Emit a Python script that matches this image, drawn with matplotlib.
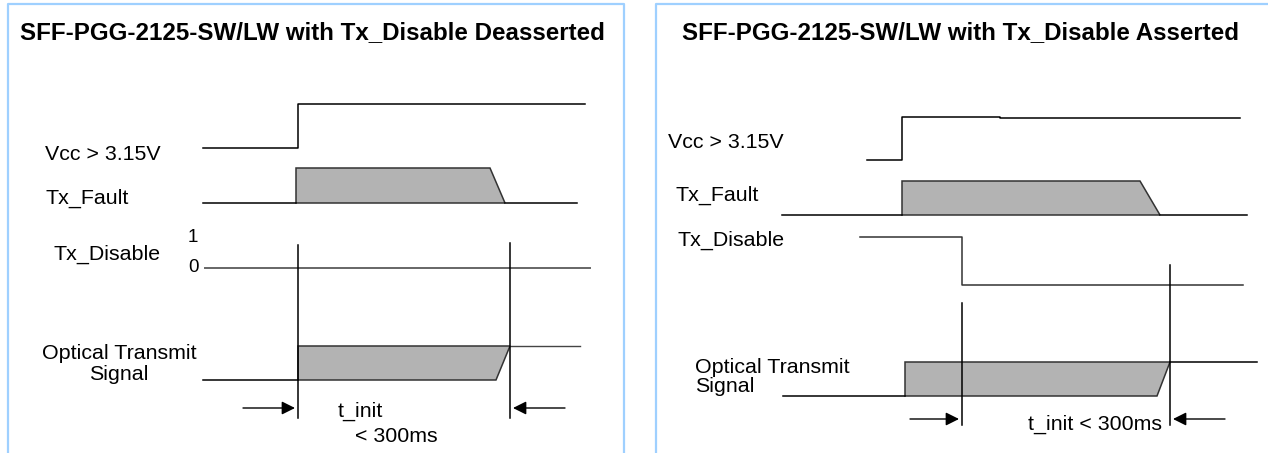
import matplotlib
matplotlib.use("Agg")
import matplotlib.pyplot as plt
from matplotlib.patches import Polygon

plt.rcParams['font.family'] = ['Liberation Sans', 'DejaVu Sans']

# panel titles
titles = ["SFF-PGG-2125-SW/LW with Tx_Disable Deasserted",
          "SFF-PGG-2125-SW/LW with Tx_Disable Asserted"]

# signal labels
vcc_label = "Vcc > 3.15V"
fault_label = "Tx_Fault"
disable_label = "Tx_Disable"
optical_label = "Optical Transmit\nSignal"

# left panel (deasserted) waveforms, pixel units: x edges and y levels
L_vcc_x = [203, 298, 298, 585]
L_vcc_y = [148, 148, 104, 104]
L_fault_low = [203, 296]
L_fault_box = [(296, 203), (296, 168), (490, 168), (505, 203)]
L_fault_tail = [505, 577]
L_fault_y = 203
L_dis_x = [205, 590]
L_dis_y = 268
L_opt_low = [203, 298]
L_opt_box = [(298, 380), (298, 346), (510, 346), (496, 380)]
L_opt_tail = [510, 580]
L_opt_y = (380, 346)
L_marks = [298, 510]
L_mark_top = [245, 243]
L_mark_bot = 418
L_arrow_y = 408

# right panel (asserted) waveforms
R_vcc_x = [867, 902, 902, 1000, 1000, 1240]
R_vcc_y = [160, 160, 117, 117, 118, 118]
R_fault_low = [782, 902]
R_fault_box = [(902, 215), (902, 181), (1140, 181), (1160, 215)]
R_fault_tail = [1160, 1247]
R_fault_y = 215
R_dis_x = [860, 962, 962, 1243]
R_dis_y = [237, 237, 285, 285]
R_opt_low = [783, 905]
R_opt_box = [(905, 396), (905, 362), (1170, 362), (1157, 396)]
R_opt_tail = [1170, 1257]
R_opt_y = (396, 362)
R_marks = [962, 1170]
R_mark_top = [303, 265]
R_mark_bot = 425
R_arrow_y = 419

fig = plt.figure(figsize=(12.68, 4.53), dpi=100)
ax = fig.add_axes([0, 0, 1, 1])
ax.set_xlim(0, 1268)
ax.set_ylim(453, 0)
ax.axis('off')

border = '#9fd0ff'
# panel frames (open at the bottom)
ax.plot([8, 8, 624, 624], [460, 3.5, 3.5, 460], color=border, lw=1.6)
ax.plot([656, 656, 1270], [460, 3.5, 3.5], color=border, lw=1.6)

ax.text(312, 33, titles[0], ha='center', va='center', fontsize=17.4, fontweight='bold')
ax.text(960, 33, titles[1], ha='center', va='center', fontsize=17.4, fontweight='bold')

line_kw = dict(color='black', lw=1.1)
fill = '#b3b3b3'


def box(pts):
    ax.add_patch(Polygon(pts, closed=True, facecolor=fill, edgecolor='#333333', lw=1.1))


def arrows(x0, x1, xa, xb, y):
    ax.annotate('', xy=(x0, y), xytext=(xa, y),
                arrowprops=dict(arrowstyle='-|>', color='black', lw=1.0, mutation_scale=20,
                                shrinkA=0, shrinkB=0))
    ax.annotate('', xy=(x1, y), xytext=(xb, y),
                arrowprops=dict(arrowstyle='-|>', color='black', lw=1.0, mutation_scale=20,
                                shrinkA=0, shrinkB=0))


fs = 15.4
# ---- left panel ----
ax.text(45, 155, vcc_label, fontsize=fs, va='center')
ax.plot(L_vcc_x, L_vcc_y, **line_kw)
ax.text(45, 198, fault_label, fontsize=fs, va='center')
ax.plot(L_fault_low, [L_fault_y] * 2, **line_kw)
box(L_fault_box)
ax.plot(L_fault_tail, [L_fault_y] * 2, **line_kw)
ax.text(53, 254, disable_label, fontsize=fs, va='center')
ax.text(188, 238, "1", fontsize=13.5, va='center')
ax.text(188, 268, "0", fontsize=13.5, va='center')
ax.plot(L_dis_x, [L_dis_y] * 2, color='#666666', lw=1.4)
ax.plot(L_opt_low, [L_opt_y[0]] * 2, **line_kw)
box(L_opt_box)
ax.plot(L_opt_tail, [L_opt_y[1]] * 2, color='#444444', lw=1.0)
ax.text(119, 364, optical_label, fontsize=fs, va='center', ha='center', linespacing=1.1)
for xm, yt in zip(L_marks, L_mark_top):
    ax.plot([xm, xm], [yt, L_mark_bot], **line_kw)
arrows(L_marks[0] - 3, L_marks[1] + 3, 243, 565, L_arrow_y)
ax.text(338, 411, "t_init", fontsize=fs, va='center')
ax.text(355, 437, "< 300ms", fontsize=fs, va='center')

# ---- right panel ----
ax.text(668, 143, vcc_label, fontsize=fs, va='center')
ax.plot(R_vcc_x, R_vcc_y, **line_kw)
ax.text(676, 195, fault_label, fontsize=fs, va='center')
ax.plot(R_fault_low, [R_fault_y] * 2, **line_kw)
box(R_fault_box)
ax.plot(R_fault_tail, [R_fault_y] * 2, **line_kw)
ax.text(677, 240, disable_label, fontsize=fs, va='center')
ax.plot(R_dis_x, R_dis_y, color='#333333', lw=1.1)
ax.plot(R_opt_low, [R_opt_y[0]] * 2, **line_kw)
box(R_opt_box)
ax.plot(R_opt_tail, [R_opt_y[1]] * 2, **line_kw)
ax.text(695, 377, optical_label, fontsize=fs, va='center', ha='left', linespacing=1.05)
for xm, yt in zip(R_marks, R_mark_top):
    ax.plot([xm, xm], [yt, R_mark_bot], **line_kw)
arrows(R_marks[0] - 3, R_marks[1] + 3, 910, 1225, R_arrow_y)
ax.text(1028, 424, "t_init < 300ms", fontsize=fs, va='center')

fig.savefig('out.png', dpi=100)
